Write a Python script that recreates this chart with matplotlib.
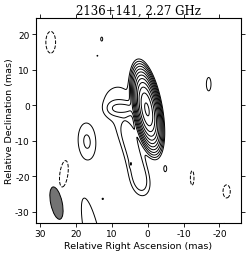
import numpy as np
import matplotlib
matplotlib.use("Agg")
import matplotlib.pyplot as plt
from matplotlib.patches import Ellipse

plt.rcParams['axes.unicode_minus'] = False

# clean components: RA, Dec offsets (mas), peak (rel. to core),
# FWHM major / minor (mas), position angle (deg, E of N)
comp_ra   = [0.2, 8.3, 4.9, 7.1, 9.2, 5.6, 4.6, 3.5, 2.6, 1.9, 4.7, 16.9, -17.0, -4.9, 12.5, 12.8, 14.0, 18.5, -21.3, 15.2,
             27.0, 23.3, -12.4, -22.0]
comp_dec  = [-1.2, 0.3, -0.9, -0.9, -0.9, -7.5, -11.3, -15.2, -19.0, -22.2, -16.6, -10.3, 5.9, -17.9, -26.4, 18.6, 13.9,
             25.0, -33.9, -38.0,
             17.7, -19.3, -20.5, -24.3]
comp_flux = [1.0, 0.00069, 0.00103, 0.00103, 0.00103, 0.00095, 0.00095, 0.00095, 0.00095, 0.00095, 0.0008,
             0.00095, 0.00077, 0.00065, 0.00055, 0.0006, 0.0005, 0.0006, 0.00065, 0.00082,
             -0.00108, -0.00108, -0.00086, -0.00108]
comp_maj  = [8.6, 11.5, 3.3, 3.3, 3.3, 6.0, 6.0, 6.0, 6.0, 6.0, 1.3, 9.4, 4.1, 2.2, 0.6, 1.6, 0.5, 1.5, 1.5, 25.0,
             5.3, 6.6, 4.0, 3.2]
comp_min  = [2.6, 9.4, 2.8, 2.8, 2.8, 4.0, 4.0, 4.0, 4.0, 4.0, 0.5, 4.45, 1.4, 1.04, 0.6, 0.8, 0.5, 0.8, 1.5, 4.4,
             2.35, 2.0, 1.0, 1.74]
comp_pa   = [10, 0, 90, 90, 90, 14, 14, 14, 14, 14, 0, 5, 0, 0, 0, 0, 0, 0, 0, 12,
             0, -8, 0, 0]

lowest = 0.00043
levels_pos = lowest * 2.0 ** np.arange(12)

beam_ra, beam_dec = 25.4, -27.6
beam_maj, beam_min, beam_pa = 9.3, 3.2, 12

ra = np.linspace(-30, 35, 651)
dec = np.linspace(-42, 30, 721)
X, Y = np.meshgrid(ra, dec)
Z = np.zeros_like(X)
for x0, y0, f, bmaj, bmin, pa in zip(comp_ra, comp_dec, comp_flux, comp_maj, comp_min, comp_pa):
    t = np.radians(pa)
    u = (X - x0) * np.sin(t) + (Y - y0) * np.cos(t)
    v = (X - x0) * np.cos(t) - (Y - y0) * np.sin(t)
    smaj = bmaj / 2.3548
    smin = bmin / 2.3548
    Z += f * np.exp(-(u ** 2 / (2 * smaj ** 2) + v ** 2 / (2 * smin ** 2)))

fig = plt.figure(figsize=(2.5, 2.55), dpi=100)
ax = fig.add_axes([0.144, 0.1216, 0.82, 0.8034])

ax.contour(X, Y, Z, levels=levels_pos, colors='k', linewidths=0.7, linestyles='solid')
ax.contour(X, Y, Z, levels=[-lowest], colors='k', linewidths=0.7, linestyles='dashed')

ax.add_patch(Ellipse((beam_ra, beam_dec), beam_min, beam_maj, angle=-beam_pa,
                     facecolor='0.45', edgecolor='k', linewidth=0.7))

ax.set_xlim(31.1, -26.0)
ax.set_ylim(-33.2, 24.5)
ax.set_xticks([30, 20, 10, 0, -10, -20])
ax.set_yticks([20, 10, 0, -10, -20, -30])
ax.tick_params(direction='out', length=3, width=0.6, labelsize=6.5, top=True, right=True, pad=1.5)
for s in ax.spines.values():
    s.set_linewidth(0.8)

ax.set_xlabel("Relative Right Ascension (mas)", fontsize=6.8, labelpad=2)
ax.set_ylabel("Relative Declination (mas)", fontsize=6.8, labelpad=1)
ax.set_title("2136+141, 2.27 GHz", fontsize=8.5, family='DejaVu Serif', pad=3)

fig.savefig("out.png", dpi=100)
